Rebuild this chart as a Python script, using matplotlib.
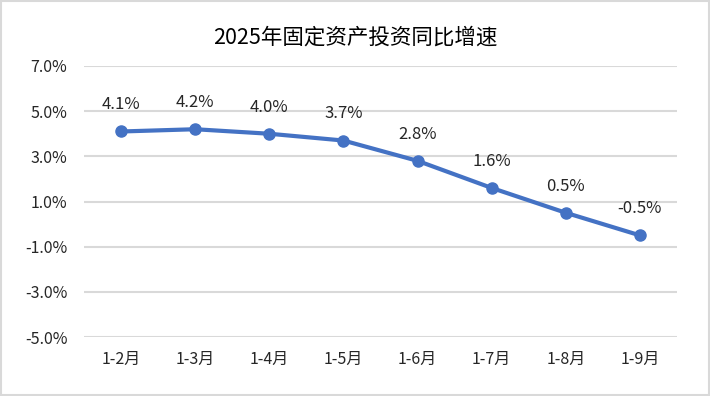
import matplotlib.pyplot as plt
from matplotlib.patches import Rectangle

plt.rcParams['font.family'] = ['Noto Sans CJK SC', 'DejaVu Sans']

months = ['1-2月', '1-3月', '1-4月', '1-5月', '1-6月', '1-7月', '1-8月', '1-9月']
growth = [4.1, 4.2, 4.0, 3.7, 2.8, 1.6, 0.5, -0.5]
yticks = [-5.0, -3.0, -1.0, 1.0, 3.0, 5.0, 7.0]

fig = plt.figure(figsize=(7.1, 3.96), dpi=100)
ax = fig.add_axes([84/710, 1-337/396, (677-84)/710, (337-66)/396])

x = range(len(months))
ax.plot(x, growth, color='#4472C4', lw=3, marker='o', ms=8, solid_capstyle='round')
for xi, v in zip(x, growth):
    ax.annotate(f'{v:.1f}%', (xi, v), xytext=(0, 13), textcoords='offset points',
                ha='center', va='bottom', fontsize=12, color='#262626')

ax.set_xlim(-0.5, len(months) - 0.5)
ax.set_ylim(-5.0, 7.0)
ax.set_yticks(yticks)
ax.set_yticklabels([f'{t:.1f}%' for t in yticks])
ax.set_xticks(list(x))
ax.set_xticklabels(months)
ax.tick_params(length=0, labelsize=11.5, labelcolor='#262626')
ax.tick_params(axis='y', pad=12)
ax.tick_params(axis='x', pad=10)
ax.grid(axis='y', color='#D9D9D9', lw=1.5)
ax.set_axisbelow(True)
for s in ax.spines.values():
    s.set_visible(False)

fig.text(0.5, 1-38/396, '2025年固定资产投资同比增速', ha='center', va='center',
         fontsize=15.5, color='#000000')
fig.patches.append(Rectangle((0.002, 0.003), 0.996, 0.994, transform=fig.transFigure,
                             fill=False, edgecolor='#D9D9D9', lw=1.5))

fig.savefig('out.png', dpi=100)
